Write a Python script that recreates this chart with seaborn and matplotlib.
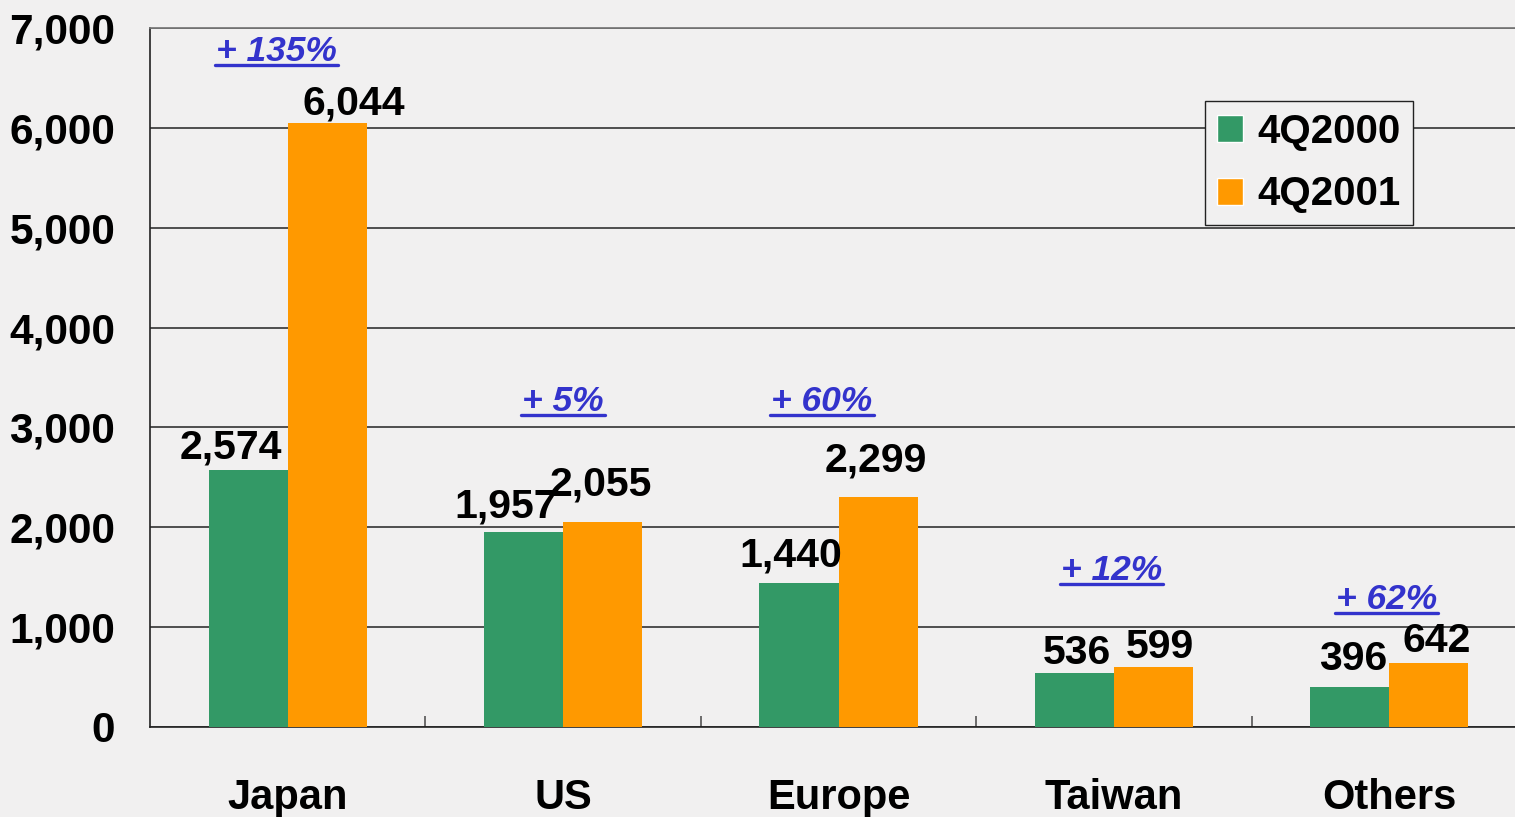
import pandas as pd
import seaborn as sns
import matplotlib.pyplot as plt
import numpy as np
from matplotlib.lines import Line2D
from matplotlib.patches import Patch

# Data
regions = ["Japan", "US", "Europe", "Taiwan", "Others"]
q4_2000 = [2574, 1957, 1440, 536, 396]
q4_2001 = [6044, 2055, 2299, 599, 642]
growth = ["+ 135%", "+ 5%", "+ 60%", "+ 12%", "+ 62%"]
growth_y = [6760, 3255, 3255, 1572, 1272]
y_ticks = [0, 1000, 2000, 3000, 4000, 5000, 6000, 7000]

df = pd.DataFrame({
    "region": regions * 2,
    "value": q4_2000 + q4_2001,
    "period": ["4Q2000"] * 5 + ["4Q2001"] * 5,
})

sns.set_theme(style="white")
plt.rcParams["font.family"] = ["Liberation Sans", "DejaVu Sans"]
plt.rcParams["text.color"] = "black"

bg = "#F1F0F0"
fig = plt.figure(figsize=(15.15, 8.17), dpi=100, facecolor=bg)
ax = fig.add_axes([150 / 1515, 90 / 817, 1377 / 1515, 699 / 817])
ax.set_facecolor("none")

sns.barplot(data=df, x="region", y="value", hue="period", order=regions,
            palette={"4Q2000": "#339966", "4Q2001": "#FF9900"}, saturation=1,
            width=0.575, linewidth=0, ax=ax, legend=False, zorder=3)

ax.set_xlim(-0.5, 4.5)
ax.set_ylim(0, 7000)
ax.set_yticks(y_ticks)
ax.set_yticklabels([f"{v:,}" for v in y_ticks])
ax.set_xlabel("")
ax.set_ylabel("")
ax.grid(axis="y", color="#222222", linewidth=1.1, zorder=1)
ax.tick_params(axis="y", length=0, pad=25, labelsize=30.5, labelcolor="black")
ax.tick_params(axis="x", which="major", length=0, pad=37, labelsize=30, labelcolor="black")
for lab in ax.get_yticklabels() + ax.get_xticklabels():
    lab.set_fontweight("bold")
ax.set_xticks([0.5, 1.5, 2.5, 3.5], minor=True)
ax.tick_params(axis="x", which="minor", direction="in", length=8,
               width=1.2, color="#555555", bottom=True)

ax.spines["right"].set_visible(False)
ax.spines["top"].set_color("#777777")
ax.spines["left"].set_color("#222222")
ax.spines["bottom"].set_color("#222222")
ax.spines["left"].set_linewidth(1.2)
ax.spines["bottom"].set_linewidth(1.2)

# value labels (offsets in pixels: dx, gap above bar)
label_dx = [-17, -18, -8, 3, 3, 27, -2, -2, 6, 8]
label_gap = [11, 14, 17, 9, 17, 9, 26, 26, 9, 11]
values = q4_2000 + q4_2001
bars = [p for p in ax.patches if p.get_height() > 0]
green = sorted([p for p in bars if p.get_facecolor()[0] < 0.5], key=lambda p: p.get_x())
orange = sorted([p for p in bars if p.get_facecolor()[0] >= 0.5], key=lambda p: p.get_x())
for i, p in enumerate(green + orange):
    ax.annotate(f"{values[i]:,}", (p.get_x() + p.get_width() / 2, p.get_height()),
                xytext=(label_dx[i] * 0.72, label_gap[i] * 0.72),
                textcoords="offset points", ha="center", va="baseline",
                fontsize=29.5, fontweight="bold", color="black", zorder=5)

# growth labels
growth_x = [-0.04, 1.0, 1.94, 2.99, 3.99]
pct_texts = []
for gx, gy, g in zip(growth_x, growth_y, growth):
    t = ax.text(gx, gy, g, ha="center", va="center", fontsize=25.5,
                fontweight="bold", fontstyle="italic", color="#3333CC", zorder=5)
    pct_texts.append(t)

# legend
handles = [Patch(facecolor="#339966", label="4Q2000"),
           Patch(facecolor="#FF9900", label="4Q2001")]
leg = ax.legend(handles=handles, loc="upper right", bbox_to_anchor=(0.917, 0.8956),
                prop={"weight": "bold", "size": 29},
                frameon=True, fancybox=False, handlelength=0.65, handleheight=0.65,
                handletextpad=0.35, borderpad=0.3, labelspacing=0.6,
                borderaxespad=0)
for txt in leg.get_texts():
    txt.set_color("black")
leg.get_frame().set_edgecolor("#222222")
leg.get_frame().set_facecolor(bg)
leg.get_frame().set_alpha(1)
leg.get_frame().set_linewidth(1)

# underline growth labels
fig.canvas.draw()
renderer = fig.canvas.get_renderer()
inv = fig.transFigure.inverted()
for t in pct_texts:
    bb = t.get_window_extent(renderer)
    y = bb.y0 + 3
    (x0, y0), (x1, _) = inv.transform([(bb.x0 - 1, y), (bb.x1 + 1, y)])
    fig.add_artist(Line2D([x0, x1], [y0, y0], transform=fig.transFigure,
                          color="#3333CC", linewidth=2.4))

fig.savefig("out.png", dpi=100, facecolor=bg)
